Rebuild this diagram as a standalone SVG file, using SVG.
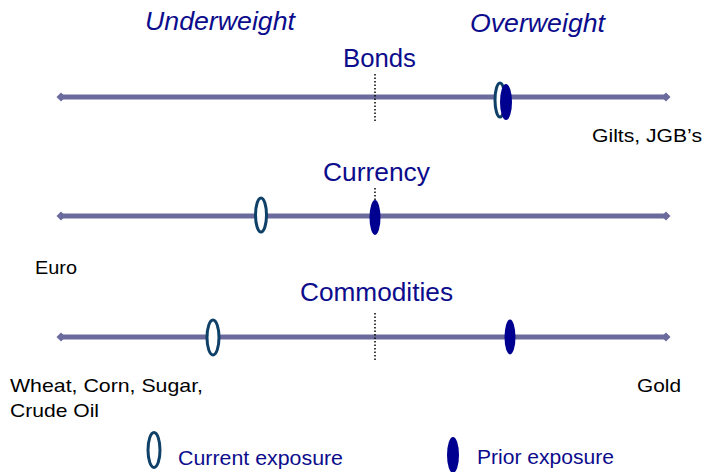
<svg xmlns="http://www.w3.org/2000/svg" width="703" height="472" viewBox="0 0 703 472">
<style>
.axis{stroke:#6a6a9c;stroke-width:5;fill:none}
.dot{stroke:#000;stroke-width:1.5;stroke-dasharray:1.5 2;fill:none}
.cur{fill:#fff;stroke:#0e4068;stroke-width:3}
.pri{fill:#000090;stroke:none}
text{font-family:"Liberation Sans",Arial,sans-serif}
.head{font-size:25px;fill:#0c0c8c}
.ital{font-size:25px;font-style:italic;fill:#0c0c8c}
.lab{font-size:19px;fill:#000}
.leg{font-size:20px;fill:#0c0c8c}
</style>
<defs>
<marker id="dm" viewBox="-5 -5 10 10" markerWidth="2" markerHeight="2" refX="0" refY="0" orient="auto" markerUnits="strokeWidth">
<path d="M-4.5 0 L0 -4.5 L4.5 0 L0 4.5 Z" fill="#6a6a9c"/>
</marker>
</defs>
<g id="titles">
<text class="ital" x="145" y="30" textLength="150" lengthAdjust="spacingAndGlyphs">Underweight</text>
<text class="ital" x="470" y="32" textLength="135" lengthAdjust="spacingAndGlyphs">Overweight</text>
</g>
<g id="connectors">
<line class="axis" x1="61" y1="97" x2="666" y2="97" marker-start="url(#dm)" marker-end="url(#dm)"/>
<line class="axis" x1="61" y1="216" x2="666" y2="216" marker-start="url(#dm)" marker-end="url(#dm)"/>
<line class="axis" x1="61" y1="337" x2="666" y2="337" marker-start="url(#dm)" marker-end="url(#dm)"/>
<line class="dot" x1="375" y1="74" x2="375" y2="122"/>
<line class="dot" x1="375" y1="188" x2="375" y2="202"/>
<line class="dot" x1="375" y1="313" x2="375" y2="360"/>
</g>
<g id="bonds">
<text class="head" x="343" y="67" textLength="73" lengthAdjust="spacingAndGlyphs">Bonds</text>
<ellipse class="cur" cx="500" cy="100" rx="5" ry="17"/>
<ellipse class="pri" cx="506" cy="102" rx="6" ry="18"/>
<text class="lab" x="592" y="142" textLength="110" lengthAdjust="spacingAndGlyphs">Gilts, JGB’s</text>
</g>
<g id="currency">
<text class="head" x="323" y="181" textLength="107" lengthAdjust="spacingAndGlyphs">Currency</text>
<ellipse class="cur" cx="261" cy="215" rx="5.5" ry="17"/>
<ellipse class="pri" cx="375" cy="217.5" rx="5.5" ry="17.5"/>
<text class="lab" x="35" y="274" textLength="42" lengthAdjust="spacingAndGlyphs">Euro</text>
</g>
<g id="commodities">
<text class="head" x="300" y="301" textLength="153" lengthAdjust="spacingAndGlyphs">Commodities</text>
<ellipse class="cur" cx="213" cy="337.5" rx="6" ry="17.5"/>
<ellipse class="pri" cx="510" cy="337" rx="5.5" ry="17.5"/>
<text class="lab" x="10" y="392" textLength="193" lengthAdjust="spacingAndGlyphs">Wheat, Corn, Sugar,</text>
<text class="lab" x="10" y="417" textLength="89" lengthAdjust="spacingAndGlyphs">Crude Oil</text>
<text class="lab" x="637" y="392" textLength="44" lengthAdjust="spacingAndGlyphs">Gold</text>
</g>
<g id="legend">
<ellipse class="cur" cx="154" cy="450" rx="6" ry="17.5"/>
<text class="leg" x="178" y="465" textLength="165" lengthAdjust="spacingAndGlyphs">Current exposure</text>
<ellipse class="pri" cx="453" cy="455" rx="6" ry="18"/>
<text class="leg" x="477" y="464" textLength="137" lengthAdjust="spacingAndGlyphs">Prior exposure</text>
</g>
</svg>
